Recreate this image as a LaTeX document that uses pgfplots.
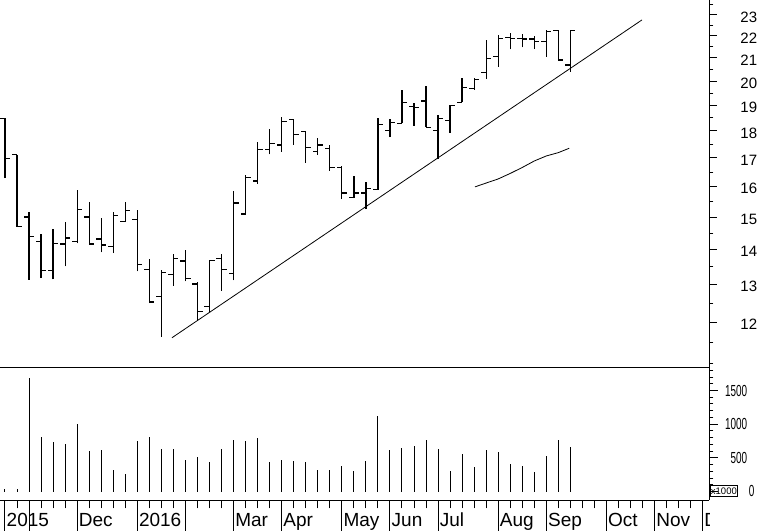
\documentclass[border=0pt]{standalone}
\usepackage{pgfplots}
\pgfplotsset{compat=1.18}
\usepackage{pgfplotstable}
\usepackage{fontspec}
\setmainfont{Liberation Sans}
\newfontfamily\volfont[FakeStretch=0.62]{Liberation Sans}

% weekly OHLC: index, open, high, low, close
\pgfplotstableread{
i O H L C
0 18.49 18.49 16.29 16.99
1 17.11 17.11 14.70 14.70
2 15.00 15.16 13.13 14.39
3 14.24 14.48 13.18 13.39
4 13.39 14.63 13.15 14.19
5 14.17 14.84 13.51 14.35
6 14.24 15.89 14.19 15.23
7 15.00 15.50 14.17 14.17
8 14.32 14.97 13.92 14.14
9 14.09 15.16 13.90 15.04
10 14.86 15.48 14.84 15.20
11 14.93 15.23 13.37 13.56
12 13.43 13.72 12.50 12.53
13 12.68 13.42 11.64 13.34
14 13.29 13.88 12.97 13.75
15 13.67 14.00 13.09 13.18
16 13.02 13.06 12.06 12.28
17 12.41 13.70 12.28 13.68
18 13.75 13.88 12.83 13.43
19 13.32 15.85 13.12 15.45
20 15.10 16.40 15.07 16.31
21 16.19 17.60 16.09 17.31
22 17.31 18.06 17.13 17.54
23 17.47 18.53 17.23 18.36
24 18.45 18.45 17.47 17.87
25 17.97 18.01 16.83 17.39
26 17.23 17.72 17.11 17.47
27 17.33 17.47 16.55 16.67
28 16.67 16.72 15.58 15.78
29 15.64 16.36 15.61 15.78
30 15.78 16.15 15.25 15.94
31 15.89 18.49 15.89 18.23
32 18.01 18.45 17.76 18.32
33 18.29 19.63 18.29 19.11
34 18.95 19.11 18.20 18.92
35 19.18 19.79 18.14 18.14
36 18.01 18.62 16.95 18.49
37 18.39 19.01 17.93 18.99
38 19.12 20.12 19.12 19.74
39 19.70 20.12 19.63 20.05
40 20.36 21.82 20.08 20.99
41 21.06 22.05 20.62 21.89
42 21.92 22.13 21.39 21.89
43 21.89 22.09 21.48 21.86
44 21.86 22.02 21.40 21.74
45 21.74 22.28 21.06 22.20
46 22.25 22.28 20.91 20.91
47 20.69 22.25 20.40 22.25
}\ohlc

% weekly volume (x1000)
\pgfplotstableread{
i V
0 30
1 40
2 1680
3 810
4 735
5 700
6 1000
7 600
8 610
9 325
10 265
11 750
12 810
13 625
14 625
15 475
16 510
17 435
18 625
19 760
20 750
21 790
22 435
23 475
24 450
25 435
26 325
27 325
28 375
29 300
30 460
31 1125
32 610
33 640
34 675
35 760
36 625
37 310
38 550
39 360
40 610
41 590
42 415
43 375
44 290
45 525
46 760
47 660
}\vol

\newcommand{\monthfont}{\fontsize{19bp}{22bp}\selectfont}

\begin{document}
\begin{tikzpicture}
\useasboundingbox (0,0) rectangle (760bp,531bp);

% ---------------- price panel ----------------
\begin{axis}[
  at={(0bp,163bp)}, anchor=south west,
  scale only axis, width=709.3bp, height=368bp,
  xmin=-0.4156, xmax=58.546,
  ymode=log, ymin=10.90, ymax=23.74,
  axis x line*=bottom, axis y line*=right,
  axis line style={-, line width=1bp, black},
  xtick=\empty,
  ytick={12,13,14,15,16,17,18,19,20,21,22,23},
  yticklabels={12,13,14,15,16,17,18,19,20,21,22,23},
  minor ytick={11,11.5,12.5,13.5,14.5,15.5,16.5,17.5,18.5,19.5,20.5,21.5,22.5,23.5},
  tick align=outside,
  major tick length=7.3bp, minor tick length=4bp,
  every tick/.style={black, line width=1bp},
  yticklabel style={font=\fontsize{15bp}{18bp}\selectfont, anchor=east, inner sep=0pt, xshift=40.7bp, yshift=-2bp},
  /pgf/number format/assume math mode=true,
]
% high-low ranges
\addplot[draw=none, mark=none,
  error bars/.cd, y dir=plus, y explicit, error mark=none,
  error bar style={draw=black, line width=1.3bp}]
  table[x=i, y=L, y error expr=\thisrow{H}-\thisrow{L}] {\ohlc};
% open ticks (left)
\addplot[draw=none, mark=none,
  error bars/.cd, x dir=minus, x fixed=0.42, error mark=none,
  error bar style={draw=black, line width=1.2bp}]
  table[x=i, y=O] {\ohlc};
% close ticks (right)
\addplot[draw=none, mark=none,
  error bars/.cd, x dir=plus, x fixed=0.42, error mark=none,
  error bar style={draw=black, line width=1.2bp}]
  table[x=i, y=C] {\ohlc};
% trend line
\addplot[black, line width=0.8bp, mark=none] coordinates {(13.88,11.62) (52.95,22.76)};
% moving average
\addplot[black, line width=0.8bp, mark=none] coordinates {
  (39.07,15.99) (40,16.12) (41,16.26) (42,16.45) (43,16.66)
  (44,16.89) (45,17.07) (46,17.19) (46.9,17.35)};
\end{axis}

% ---------------- volume panel ----------------
\begin{axis}[
  at={(0bp,31bp)}, anchor=south west,
  scale only axis, width=709.3bp, height=132bp,
  xmin=-0.4156, xmax=58.546,
  ymin=-126, ymax=1834,
  clip=false,
  axis x line*=bottom, axis y line*=right,
  axis line style={-, line width=1bp, black},
  xtick={0,...,58}, xticklabels={},
  extra x ticks={0,2,6,11,15,19,23,28,32,36,41,45,50,54,58},
  extra x tick labels={},
  extra x tick style={major tick length=31bp},
  ytick={0,500,1000,1500}, yticklabels={,500,1000,1500},
  minor ytick={100,200,300,400,600,700,800,900,1100,1200,1300,1400,1600,1700,1800},
  tick align=outside,
  major tick length=8.3bp, minor tick length=4bp,
  every tick/.style={black, line width=1bp},
  yticklabel style={font=\volfont\fontsize{16bp}{18bp}\selectfont, anchor=east, inner sep=0pt, xshift=29.7bp},
  /pgf/number format/assume math mode=true,
]
\addplot[ycomb, black, line width=1bp, mark=none] table[x=i, y=V] {\vol};
\end{axis}

% month labels
\foreach \xx/\lab in {6.5/2015, 78.7/Dec, 138.8/2016, 235.1/Mar, 283.2/Apr, 343.3/May, 391.5/Jun, 439.6/Jul, 499.7/Aug, 547.9/Sep, 608.0/Oct, 656.1/Nov}
  \node[anchor=base west, inner sep=0pt, font=\monthfont] at (\xx bp, 4.3bp) {\lab};
\begin{scope}
  \clip (700bp,0bp) rectangle (709.3bp,31bp);
  \node[anchor=base west, inner sep=0pt, font=\monthfont] at (704.2bp, 4.3bp) {D};
\end{scope}

% x1000 box and zero label
\node[draw, line width=0.8bp, inner sep=0.5bp, minimum width=24.3bp, minimum height=11.7bp,
  font=\fontsize{9.5bp}{10bp}\selectfont] at (723.9bp, 40.2bp) {x1000};
\node[anchor=east, inner sep=0pt, font=\volfont\fontsize{16bp}{18bp}\selectfont] at (754.5bp, 40bp) {0};
\end{tikzpicture}
\end{document}
